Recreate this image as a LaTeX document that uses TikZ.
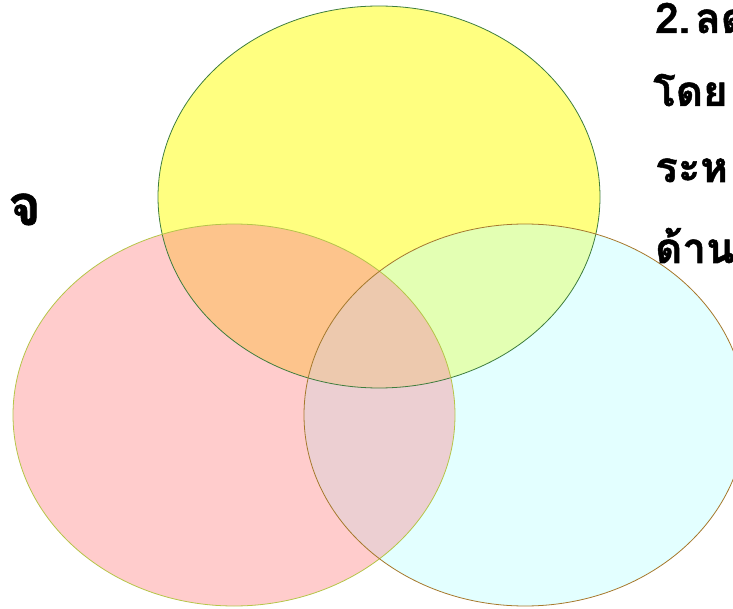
\documentclass[tikz,border=0pt]{standalone}
\usepackage{fontspec}
\newfontfamily\thaifont[Script=Thai,BoldFeatures={FakeBold=1.2}]{Loma}
\definecolor{cY}{HTML}{FFFF80}
\definecolor{cP}{HTML}{FFCCCC}
\definecolor{cC}{HTML}{E3FFFF}
\definecolor{cYP}{HTML}{FDC48C}
\definecolor{cYC}{HTML}{E3FFB3}
\definecolor{cPC}{HTML}{ECCFD2}
\definecolor{cYPC}{HTML}{EDC9AE}
\definecolor{sY}{HTML}{3E7D3E}
\definecolor{sP}{HTML}{B5C548}
\definecolor{sC}{HTML}{A6782B}
\begin{document}
\begin{tikzpicture}[x=1pt,y=-1pt,
  thai/.style={font=\thaifont\bfseries\fontsize{42}{50}\selectfont, anchor=base west, inner sep=0pt, text=black},
  thaibig/.style={font=\thaifont\bfseries\fontsize{56}{64}\selectfont, anchor=base west, inner sep=0pt, text=black},
  outline/.style={line width=0.8pt}]
\useasboundingbox (0,0) rectangle (733,609);
% base fills
\fill[cY] (379,197) ellipse [x radius=221, y radius=191];
\fill[cP] (234,415) ellipse [x radius=221, y radius=191];
\fill[cC] (525,415) ellipse [x radius=221, y radius=191];
% overlaps
\begin{scope}
  \clip (379,197) ellipse [x radius=221, y radius=191];
  \fill[cYP] (234,415) ellipse [x radius=221, y radius=191];
  \fill[cYC] (525,415) ellipse [x radius=221, y radius=191];
\end{scope}
\begin{scope}
  \clip (234,415) ellipse [x radius=221, y radius=191];
  \fill[cPC] (525,415) ellipse [x radius=221, y radius=191];
  \clip (525,415) ellipse [x radius=221, y radius=191];
  \fill[cYPC] (379,197) ellipse [x radius=221, y radius=191];
\end{scope}
% outlines
\draw[outline, sY] (379,197) ellipse [x radius=221, y radius=191];
\draw[outline, sP] (234,415) ellipse [x radius=221, y radius=191];
\draw[outline, sC] (525,415) ellipse [x radius=221, y radius=191];
% texts
\node[thai] (t1) at (655,33) {2.\hspace{5pt}ลด};
\node[thai] (t2) at (653,106) {โดย};
\node[thai] (t3) at (655,182) {ระห};
\node[thai] (t4) at (655,263) {ด้าน};
\node[thaibig] (t0) at (8,225) {จ};
\end{tikzpicture}
\end{document}
